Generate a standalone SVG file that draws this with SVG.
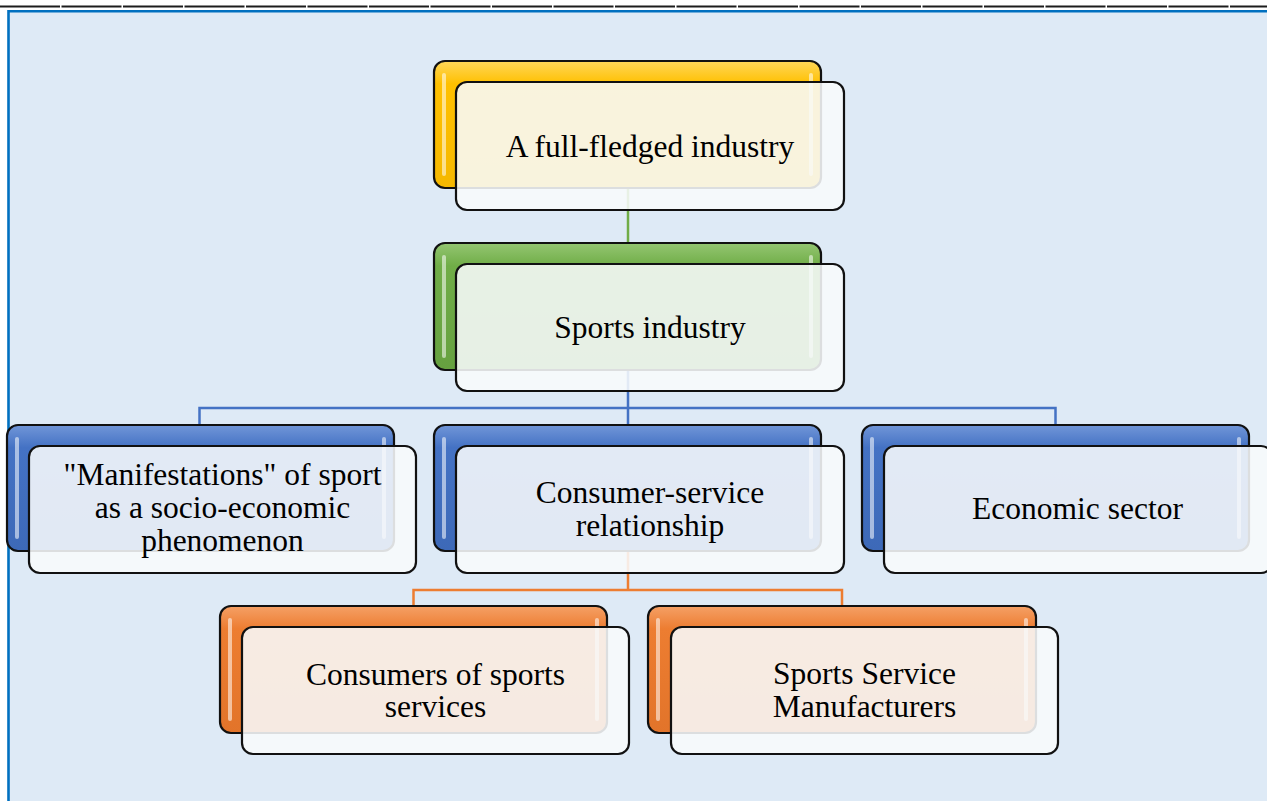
<svg xmlns="http://www.w3.org/2000/svg" width="1267" height="801" viewBox="0 0 1267 801">
  <defs>
    <style>
      .back { stroke: #111; stroke-width: 2.2; }
      .front { fill: #f8fafc; fill-opacity: 0.88; stroke: #111; stroke-width: 2.2; }
      .shine { fill: #ffffff; fill-opacity: 0.55; }
      .lbl { font-family: "Liberation Serif", "Times New Roman", serif; font-size: 31.5px; fill: #000; text-anchor: middle; }
      .conn { fill: none; stroke-width: 2.5; }
    </style>
    <linearGradient id="gYellow" x1="0" y1="0" x2="0" y2="1">
      <stop offset="0" stop-color="#ffd75a"/>
      <stop offset="0.18" stop-color="#ffc000"/>
      <stop offset="1" stop-color="#f5b800"/>
    </linearGradient>
    <linearGradient id="gGreen" x1="0" y1="0" x2="0" y2="1">
      <stop offset="0" stop-color="#94c672"/>
      <stop offset="0.18" stop-color="#70ad47"/>
      <stop offset="1" stop-color="#66a140"/>
    </linearGradient>
    <linearGradient id="gBlue" x1="0" y1="0" x2="0" y2="1">
      <stop offset="0" stop-color="#7196d8"/>
      <stop offset="0.18" stop-color="#4472c4"/>
      <stop offset="1" stop-color="#3d69b8"/>
    </linearGradient>
    <linearGradient id="gOrange" x1="0" y1="0" x2="0" y2="1">
      <stop offset="0" stop-color="#f5a066"/>
      <stop offset="0.18" stop-color="#ed7d31"/>
      <stop offset="1" stop-color="#e2742a"/>
    </linearGradient>
  </defs>

  <!-- page and frame -->
  <rect x="0" y="0" width="1267" height="801" fill="#ffffff"/>
  <line x1="0" y1="6.5" x2="1267" y2="6.5" stroke="#1c1c1c" stroke-width="2.2" stroke-dasharray="60 1.5"/>
  <rect x="8" y="11" width="1259" height="790" fill="#deeaf6"/>
  <path d="M8.5,801 V11.2 H1267" fill="none" stroke="#0070c0" stroke-width="2.6"/>

  <!-- connectors -->
  <g id="connectors">
    <path class="conn" stroke="#70ad47" d="M628,189 V243"/>
    <path class="conn" stroke="#4472c4" d="M628,370 V425 M199.5,425 V408 H1055.5 V425"/>
    <path class="conn" stroke="#ed7d31" d="M628,551 V590 M413.5,606 V590 H842 V606"/>
  </g>

  <!-- level 1 -->
  <g id="node-full-fledged-industry">
    <rect class="back" x="434" y="61" width="387" height="127" rx="11" fill="url(#gYellow)"/>
    <rect class="shine" x="442" y="73" width="4" height="103" rx="2"/>
    <rect class="shine" x="809" y="73" width="4" height="103" rx="2"/>
    <rect class="front" x="456" y="82" width="388" height="128" rx="11"/>
    <text class="lbl" x="650" y="157">A full-fledged industry</text>
  </g>

  <!-- level 2 -->
  <g id="node-sports-industry">
    <rect class="back" x="434" y="243" width="387" height="127" rx="11" fill="url(#gGreen)"/>
    <rect class="shine" x="442" y="255" width="4" height="103" rx="2"/>
    <rect class="shine" x="809" y="255" width="4" height="103" rx="2"/>
    <rect class="front" x="456" y="264" width="388" height="127" rx="11"/>
    <text class="lbl" x="650" y="338">Sports industry</text>
  </g>

  <!-- level 3 -->
  <g id="node-manifestations">
    <rect class="back" x="7" y="425" width="387" height="126" rx="11" fill="url(#gBlue)"/>
    <rect class="shine" x="15" y="437" width="4" height="102" rx="2"/>
    <rect class="shine" x="382" y="437" width="4" height="102" rx="2"/>
    <rect class="front" x="29" y="446" width="387" height="127" rx="11"/>
    <text class="lbl" x="222.5" y="485">"Manifestations" of sport</text>
    <text class="lbl" x="222.5" y="518">as a socio-economic</text>
    <text class="lbl" x="222.5" y="551">phenomenon</text>
  </g>

  <g id="node-consumer-service">
    <rect class="back" x="434" y="425" width="387" height="126" rx="11" fill="url(#gBlue)"/>
    <rect class="shine" x="442" y="437" width="4" height="102" rx="2"/>
    <rect class="shine" x="809" y="437" width="4" height="102" rx="2"/>
    <rect class="front" x="456" y="446" width="388" height="127" rx="11"/>
    <text class="lbl" x="650" y="503">Consumer-service</text>
    <text class="lbl" x="650" y="536">relationship</text>
  </g>

  <g id="node-economic-sector">
    <rect class="back" x="862" y="425" width="387" height="126" rx="11" fill="url(#gBlue)"/>
    <rect class="shine" x="870" y="437" width="4" height="102" rx="2"/>
    <rect class="shine" x="1237" y="437" width="4" height="102" rx="2"/>
    <rect class="front" x="884" y="446" width="388" height="127" rx="11"/>
    <text class="lbl" x="1077.5" y="519">Economic sector</text>
  </g>

  <!-- level 4 -->
  <g id="node-consumers">
    <rect class="back" x="220" y="606" width="387" height="127" rx="11" fill="url(#gOrange)"/>
    <rect class="shine" x="228" y="618" width="4" height="103" rx="2"/>
    <rect class="shine" x="595" y="618" width="4" height="103" rx="2"/>
    <rect class="front" x="242" y="627" width="387" height="127" rx="11"/>
    <text class="lbl" x="435.5" y="685">Consumers of sports</text>
    <text class="lbl" x="435.5" y="717">services</text>
  </g>

  <g id="node-manufacturers">
    <rect class="back" x="648" y="606" width="388" height="127" rx="11" fill="url(#gOrange)"/>
    <rect class="shine" x="656" y="618" width="4" height="103" rx="2"/>
    <rect class="shine" x="1024" y="618" width="4" height="103" rx="2"/>
    <rect class="front" x="671" y="627" width="387" height="127" rx="11"/>
    <text class="lbl" x="864.5" y="684">Sports Service</text>
    <text class="lbl" x="864.5" y="717">Manufacturers</text>
  </g>
</svg>
